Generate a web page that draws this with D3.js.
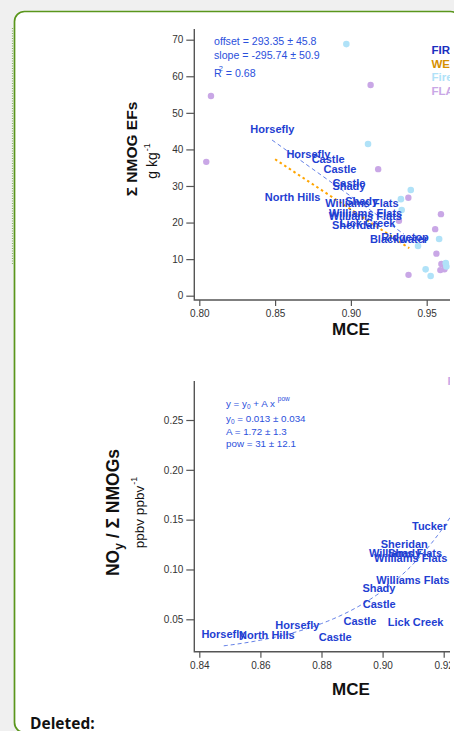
<!DOCTYPE html>
<html><head><meta charset="utf-8">
<script src="https://cdn.jsdelivr.net/npm/d3@7"></script>
<style>
html,body{margin:0;padding:0;background:#f0f0f0;overflow:hidden}
svg{display:block}
text{font-family:"Liberation Sans",Arial,Helvetica,sans-serif}
</style></head><body>
<svg id="c" width="454" height="731"></svg>
<script>
// ---- top panel: Σ NMOG emission factors vs MCE ----
const labMCE  = [0.8077,0.8046,0.913,0.918,0.9379,0.9594,0.9317,0.9556,0.9564,0.9597,0.959,0.9617,0.938];
const labEF   = [54.6,36.6,57.6,34.6,26.8,22.3,20.5,18.2,11.5,8.7,7.0,7.2,5.7];
const fireLabMCE = [0.897,0.9113,0.9395,0.933,0.9335,0.9582,0.9443,0.9626,0.963,0.9493,0.9526];
const fireLabEF  = [68.8,41.5,28.9,26.4,23.4,15.5,13.6,8.9,8.0,7.2,5.4];
const fireNames1 = ["Horsefly","Horsefly","Castle","Castle","Castle","Shady","North Hills","Shady",
                    "Williams Flats","Williams Flats","Williams Flats","Lick Creek","Sheridan","Ridgetop","Blackwater"];
const fireMCE1   = [0.8482,0.872,0.885,0.8928,0.8987,0.8987,0.8616,0.9071,0.9073,0.9097,0.9095,0.911,0.903,0.9357,0.9317];
const fireEF1    = [45.5,38.7,37.4,34.6,30.7,30.0,26.9,26.0,25.3,22.7,21.8,19.8,19.3,16.1,15.5];
const linFit     = {offset:293.35, slope:-295.74, from:0.848, to:0.935};
const wecanFitMCE = [0.850, 0.9385];
const wecanFitEF  = [37.3, 13.0];
const efTicks  = [0,10,20,30,40,50,60,70];
const mceTicks1 = [0.80,0.85,0.90,0.95,1.00];
const legendNames = ["FIREX-AQ","WE-CAN","FireLab","FLAME-4"];

// ---- bottom panel: NOy / Σ NMOGs vs MCE ----
const fireNames2 = ["Tucker","Sheridan","Williams Flats","Shady","Williams Flats","Williams Flats","Shady",
                    "Castle","Castle","Lick Creek","Horsefly","Castle","Horsefly","North Hills"];
const fireMCE2   = [0.9154,0.9071,0.9075,0.9072,0.9092,0.9099,0.8988,0.8989,0.8926,0.9108,0.8721,0.8845,0.8479,0.8621];
const ratio2     = [0.1433,0.126,0.1166,0.1166,0.111,0.0893,0.081,0.065,0.0483,0.047,0.0446,0.032,0.0353,0.0346];
const powFit     = {y0:0.013, A:1.72, pow:31, from:0.848, to:0.93};
const ratioTicks = [0.05,0.10,0.15,0.20,0.25];
const mceTicks2  = [0.84,0.86,0.88,0.90,0.92];

const C = {
  green:"#5a961c", label:"#1f3fd2", note:"#2b50dc", axis:"#555", tick:"#333",
  firex:"#1a2fc0", wecan:"#d68f00", fireLab:"#b0e2f8", flame:"#c9a7e6"
};

const svg = d3.select("#c");
svg.append("rect").attr("width",454).attr("height",731).attr("fill","#f0f0f0");

// comment box
svg.append("rect").attr("x",14.5).attr("y",11.5).attr("width",446).attr("height",721)
  .attr("rx",10).attr("fill","#fff").attr("stroke",C.green).attr("stroke-width",1.7);
svg.append("line").attr("x1",12.5).attr("x2",12.5).attr("y1",28).attr("y2",264)
  .attr("stroke","#8db566").attr("stroke-width",1.2).attr("stroke-dasharray","1,1.5");

svg.append("text").attr("x",30).attr("y",728.5)
  .style("font-family","'Open Sans','Noto Sans',sans-serif")
  .attr("font-size",15.5).attr("font-weight","bold").attr("fill","#111").text("Deleted:");

svg.append("defs").append("clipPath").attr("id","clip")
  .append("rect").attr("x",0).attr("y",0).attr("width",450).attr("height",731);
const g = svg.append("g").attr("clip-path","url(#clip)");

function drawAxes(x, y, xTicks, yTicks, xFmt, yFmt, left, bottom, top) {
  const ya = g.append("g").attr("transform",`translate(${left},0)`)
    .call(d3.axisLeft(y).tickValues(yTicks).tickFormat(yFmt).tickSize(8).tickPadding(3));
  ya.select(".domain").remove();
  const xa = g.append("g").attr("transform",`translate(0,${bottom})`)
    .call(d3.axisBottom(x).tickValues(xTicks).tickFormat(xFmt).tickSize(6).tickPadding(4));
  xa.select(".domain").remove();
  [ya, xa].forEach(a => {
    a.selectAll("line").attr("stroke",C.axis).attr("stroke-width",1.2);
    a.selectAll("text").attr("fill",C.tick).attr("font-size",10)
      .style("font-family","'Liberation Sans',Arial,sans-serif");
  });
  g.append("path").attr("d",`M${left},${top}V${bottom}H460`)
    .attr("fill","none").attr("stroke",C.axis).attr("stroke-width",1.4);
}

// ===== top panel =====
const x1 = d3.scaleLinear().domain([0.80,0.95]).range([199.3,426.7]);
const y1 = d3.scaleLinear().domain([0,70]).range([295.7,39.7]);
drawAxes(x1, y1, mceTicks1, efTicks, d3.format(".2f"), d3.format("d"), 194.3, 300, 29);

g.append("text").attr("x",351).attr("y",335).attr("text-anchor","middle")
  .attr("font-size",17).attr("font-weight","bold").attr("fill","#111").text("MCE");

const yl1 = g.append("g").attr("transform","translate(137,149) rotate(-90)");
yl1.append("text").attr("text-anchor","middle").attr("font-size",15.5).attr("font-weight","bold")
  .attr("fill","#111").text("Σ NMOG EFs");
const u1 = g.append("g").attr("transform","translate(156.5,161) rotate(-90)")
  .append("text").attr("text-anchor","middle").attr("font-size",14).attr("fill","#111");
u1.append("tspan").text("g kg");
u1.append("tspan").attr("dx",1).attr("dy",-7).attr("font-size",9).text("-1");

// fit statistics
const n1 = g.append("g").attr("fill",C.note).attr("font-size",10.6);
n1.append("text").attr("x",214).attr("y",44.5).text("offset = 293.35 ± 45.8");
n1.append("text").attr("x",214).attr("y",58.5).text("slope = -295.74 ± 50.9");
const r2 = n1.append("text").attr("x",214).attr("y",77);
r2.append("tspan").text("R");
r2.append("tspan").attr("dx",-3).attr("dy",-6.5).attr("font-size",7.5).text("2");
r2.append("tspan").attr("dy",6.5).text(" = 0.68");

// legend
legendNames.forEach((n,i)=>{
  g.append("text").attr("x",431.5).attr("y",54+i*13.7).attr("font-size",11.5).attr("font-weight","bold")
    .attr("fill",[C.firex,C.wecan,C.fireLab,C.flame][i]).text(n);
});

// lab points
g.selectAll(".flame").data(labMCE).join("circle")
  .attr("cx",d=>x1(d)).attr("cy",(d,i)=>y1(labEF[i])).attr("r",3.2).attr("fill",C.flame);
g.selectAll(".firelab").data(fireLabMCE).join("circle")
  .attr("cx",d=>x1(d)).attr("cy",(d,i)=>y1(fireLabEF[i])).attr("r",3.3).attr("fill",C.fireLab);

// fits
g.append("line")
  .attr("x1",x1(linFit.from)).attr("y1",y1(linFit.offset+linFit.slope*linFit.from))
  .attr("x2",x1(linFit.to)).attr("y2",y1(linFit.offset+linFit.slope*linFit.to))
  .attr("stroke","#3a5ee0").attr("stroke-width",0.8).attr("stroke-dasharray","4,3");
g.append("line")
  .attr("x1",x1(wecanFitMCE[0])).attr("y1",y1(wecanFitEF[0]))
  .attr("x2",x1(wecanFitMCE[1])).attr("y2",y1(wecanFitEF[1]))
  .attr("stroke","#ffa500").attr("stroke-width",2).attr("stroke-dasharray","2.5,3");

// fire labels
g.selectAll(".f1").data(fireNames1).join("text")
  .attr("x",(d,i)=>x1(fireMCE1[i])).attr("y",(d,i)=>y1(fireEF1[i])).attr("dy","0.36em")
  .attr("text-anchor","middle").attr("font-size",11).attr("font-weight","bold").attr("fill",C.label)
  .text(d=>d);

// ===== bottom panel =====
const x2 = d3.scaleLinear().domain([0.84,0.92]).range([199.3,443.7]);
const y2 = d3.scaleLinear().domain([0.05,0.25]).range([619.3,420]);
drawAxes(x2, y2, mceTicks2, ratioTicks, d3.format(".2f"), d3.format(".2f"), 194.3, 651.7, 381);

g.append("text").attr("x",351).attr("y",695).attr("text-anchor","middle")
  .attr("font-size",17).attr("font-weight","bold").attr("fill","#111").text("MCE");

const yl2 = g.append("g").attr("transform","translate(118.5,512.5) rotate(-90)");
const t2 = yl2.append("text").attr("text-anchor","middle").attr("font-size",17.5).attr("font-weight","bold").attr("fill","#111");
t2.append("tspan").text("NO");
t2.append("tspan").attr("dy",4).attr("font-size",12).text("y");
t2.append("tspan").attr("dy",-4).text(" / Σ NMOGs");
const u2 = yl2.append("text").attr("y",25).attr("text-anchor","middle").attr("font-size",13.5).attr("fill","#111");
u2.append("tspan").text("ppbv ppbv");
u2.append("tspan").attr("dx",1).attr("dy",-7).attr("font-size",9).text("-1");

const n2 = g.append("g").attr("fill",C.note).attr("font-size",9.8);
const e0 = n2.append("text").attr("x",226).attr("y",406.5);
e0.append("tspan").text("y = y");
e0.append("tspan").attr("dy",2).attr("font-size",6.5).text("0");
e0.append("tspan").attr("dy",-2).text(" + A x");
e0.append("tspan").attr("dy",-6).attr("dx",3).attr("font-size",6.5).text("pow");
const e1 = n2.append("text").attr("x",226).attr("y",421.5);
e1.append("tspan").text("y");
e1.append("tspan").attr("dy",2).attr("font-size",6.5).text("0");
e1.append("tspan").attr("dy",-2).text(" = 0.013 ± 0.034");
n2.append("text").attr("x",226).attr("y",435).text("A  = 1.72 ± 1.3");
n2.append("text").attr("x",226).attr("y",447).text("pow = 31 ± 12.1");

// legend stub at the panel edge
g.append("text").attr("x",447.6).attr("y",384.5).attr("font-size",11.5).attr("font-weight","bold")
  .attr("fill",C.flame).text(legendNames[3]);

// power-law fit curve
const fitX = d3.range(powFit.from, powFit.to + 1e-9, 0.001);
g.append("path")
  .attr("d", d3.line().x(d=>x2(d)).y(d=>y2(powFit.y0 + powFit.A*Math.pow(d,powFit.pow)))(fitX))
  .attr("fill","none").attr("stroke","#3a5ee0").attr("stroke-width",0.8).attr("stroke-dasharray","4,3");

g.selectAll(".f2").data(fireNames2).join("text")
  .attr("x",(d,i)=>x2(fireMCE2[i])).attr("y",(d,i)=>y2(ratio2[i])).attr("dy","0.36em")
  .attr("text-anchor","middle").attr("font-size",11).attr("font-weight","bold").attr("fill",C.label)
  .text(d=>d);
</script>
</body></html>
